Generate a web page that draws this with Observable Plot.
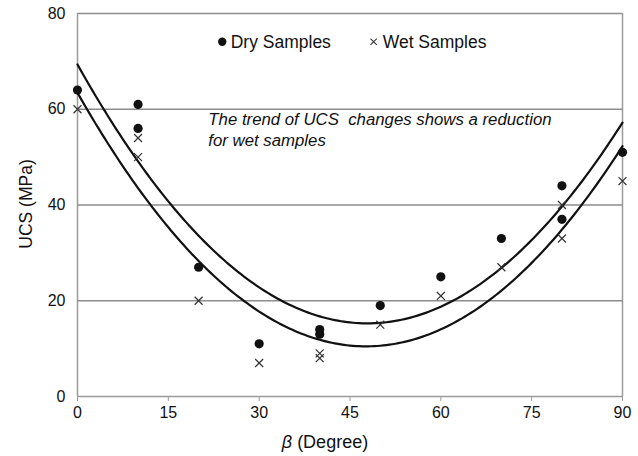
<!DOCTYPE html>
<html>
<head>
<meta charset="utf-8">
<script src="https://cdn.jsdelivr.net/npm/d3@7"></script>
<script src="https://cdn.jsdelivr.net/npm/@observablehq/plot@0.6"></script>
<style>
  body { margin: 0; background: #fff; }
  #chart svg { display: block; }
</style>
</head>
<body>
<div id="chart"></div>
<script>
// Bedding angle β (degrees) of each specimen
const angles = [0, 10, 10, 20, 30, 40, 40, 50, 60, 70, 80, 80, 90];
// Uniaxial compressive strength (MPa)
const dryUCS = [64, 61, 56, 27, 11, 14, 13, 19, 25, 33, 44, 37, 51];
const wetUCS = [60, 54, 50, 20, 7, 9, 8, 15, 21, 27, 40, 33, 45];
const xTicks = [0, 15, 30, 45, 60, 75, 90];
const yTicks = [0, 20, 40, 60, 80];
const seriesNames = ["Dry Samples", "Wet Samples"];
const note = "The trend of UCS  changes shows a reduction\nfor wet samples";

const font = "'Liberation Sans', Arial, sans-serif";

// Least-squares second-order polynomial trend: y = c0 + c1 x + c2 x²
function quadFit(xs, ys) {
  const S = k => d3.sum(xs, x => x ** k);
  const T = k => d3.sum(xs, (x, i) => ys[i] * x ** k);
  const A = [
    [S(0), S(1), S(2), T(0)],
    [S(1), S(2), S(3), T(1)],
    [S(2), S(3), S(4), T(2)]
  ];
  for (let i = 0; i < 3; i++) {
    for (let j = i + 1; j < 3; j++) {
      const f = A[j][i] / A[i][i];
      for (let k = i; k < 4; k++) A[j][k] -= f * A[i][k];
    }
  }
  const c = [0, 0, 0];
  for (let i = 2; i >= 0; i--) {
    let s = A[i][3];
    for (let k = i + 1; k < 3; k++) s -= A[i][k] * c[k];
    c[i] = s / A[i][i];
  }
  return c;
}

const dryPts = angles.map((x, i) => ({x, y: dryUCS[i]}));
const wetPts = angles.map((x, i) => ({x, y: wetUCS[i]}));

const trend = (pts) => {
  const c = quadFit(pts.map(d => d.x), pts.map(d => d.y));
  return d3.range(0, 90.25, 0.5).map(x => ({x, y: c[0] + c[1] * x + c[2] * x * x}));
};
const dryTrend = trend(dryPts);
const wetTrend = trend(wetPts);

const chart = Plot.plot({
  width: 638,
  height: 456,
  marginLeft: 77,
  marginRight: 16,
  marginTop: 13,
  marginBottom: 60,
  style: {fontFamily: font, fontSize: "16px", color: "#111", background: "#fff"},
  x: {domain: [0, 90], ticks: xTicks, label: null},
  y: {domain: [0, 80], ticks: yTicks, label: null},
  marks: [
    Plot.ruleY(yTicks.filter(v => v > 0), {stroke: "#8c8c8c", strokeWidth: 1.3}),
    Plot.ruleX([0, 90], {stroke: "#9a9a9a", strokeWidth: 1.5}),
    Plot.ruleY([0], {stroke: "#9a9a9a", strokeWidth: 1.5}),
    Plot.axisX({ticks: xTicks, tickSize: 5, tickPadding: 5, stroke: "#9a9a9a", fontSize: 16, label: null}),
    Plot.axisY({ticks: yTicks, tickSize: 0, tickPadding: 12, fontSize: 16, label: null}),
    Plot.line(dryTrend, {x: "x", y: "y", stroke: "#111", strokeWidth: 2.2, curve: "linear"}),
    Plot.line(wetTrend, {x: "x", y: "y", stroke: "#111", strokeWidth: 2.2, curve: "linear"}),
    Plot.dot(dryPts, {x: "x", y: "y", r: 4.6, fill: "#111", stroke: "none"}),
    Plot.dot(wetPts, {x: "x", y: "y", r: 3.7, symbol: "times", stroke: "#333", strokeWidth: 1.2}),
    // legend
    Plot.dot([{x: 23.9, y: 74.1}], {x: "x", y: "y", r: 4.2, fill: "#111", stroke: "none"}),
    Plot.text([seriesNames[0]], {x: 25.3, y: 74, textAnchor: "start", fontSize: 17.5, fill: "#111"}),
    Plot.dot([{x: 48.9, y: 74.1}], {x: "x", y: "y", r: 3, symbol: "times", stroke: "#333", strokeWidth: 1.1}),
    Plot.text([seriesNames[1]], {x: 50.4, y: 74, textAnchor: "start", fontSize: 17.5, fill: "#111"}),
    // annotation
    Plot.text([note], {x: 21.6, y: 59.9, textAnchor: "start", lineAnchor: "top", fontSize: 16.8, fontStyle: "italic", lineHeight: 1.25, fill: "#111"})
  ]
});

const svg = d3.select(chart);
// axis titles
svg.append("text")
  .attr("x", 325).attr("y", 448)
  .attr("text-anchor", "middle")
  .attr("font-family", font).attr("font-size", 18).attr("fill", "#111")
  .call(t => {
    t.append("tspan").attr("font-style", "italic").text("β");
    t.append("tspan").text(" (Degree)");
  });
svg.append("text")
  .attr("transform", "translate(32,204) rotate(-90)")
  .attr("text-anchor", "middle")
  .attr("font-family", font).attr("font-size", 17.5).attr("fill", "#111")
  .text("UCS (MPa)");

document.getElementById("chart").appendChild(chart);
</script>
</body>
</html>
